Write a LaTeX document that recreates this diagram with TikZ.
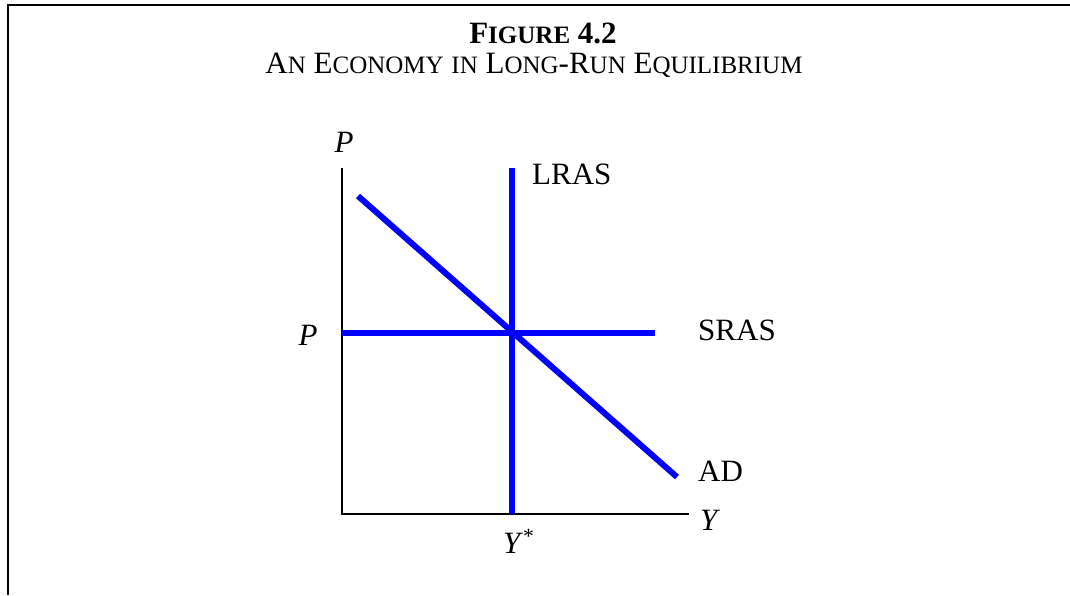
\documentclass[tikz,border=0pt]{standalone}
\usepackage{fontspec}
\setmainfont{Liberation Serif}
\newcommand{\bigsz}{\fontsize{31}{36}\selectfont}
\newcommand{\scs}[1]{{\fontsize{25}{30}\selectfont #1}}
\tikzset{
  lbl/.style={inner sep=0pt, font=\bigsz},
  curve/.style={draw=blue, line width=6pt},
  axis/.style={draw=black, line width=2pt},
  frame/.style={draw=black, line width=2.5pt}
}
\begin{document}
\begin{tikzpicture}[x=1pt,y=-1pt]
\useasboundingbox (0,0) rectangle (1070,595);
% frame
\coordinate (ftl) at (8,5);
\coordinate (ftr) at (1070,5);
\coordinate (fbl) at (8,595);
\draw[frame] (ftr) -- (ftl) -- (fbl);
% title
\node[lbl, anchor=base] (title) at (543,43) {\textbf{F\scs{IGURE} 4.2}};
\node[lbl, anchor=base] (subtitle) at (534,73) {A\scs{N} E\scs{CONOMY} \scs{IN} L\scs{ONG}-R\scs{UN} E\scs{QUILIBRIUM}};
% axes
\coordinate (o) at (342,514);
\coordinate (ytop) at (342,168);
\coordinate (xend) at (689,514);
\draw[axis] (ytop) -- (o) -- (xend);
% curves
\coordinate (lrasT) at (512,168);
\coordinate (lrasB) at (512,514);
\coordinate (srasL) at (342,333);
\coordinate (srasR) at (655,333);
\coordinate (adT) at (358,196);
\coordinate (adB) at (677,477);
\draw[curve] (srasL) -- (srasR);
\draw[curve] (adT) -- (adB);
\draw[curve] (lrasT) -- (lrasB);
% labels
\node[lbl, anchor=base] (Ptop) at (344,152) {\textit{P}};
\node[lbl, anchor=base west] (lras) at (532,184) {LRAS};
\node[lbl, anchor=base west] (sras) at (698,340) {SRAS};
\node[lbl, anchor=base] (Pleft) at (308,345) {\textit{P}};
\node[lbl, anchor=base west] (ad) at (698,481) {AD};
\node[lbl, anchor=base west] (Y) at (700,530) {\textit{Y}};
\node[lbl, anchor=base west] (Ystar) at (503,553) {\textit{Y}\textsuperscript{*}};
\end{tikzpicture}
\end{document}
